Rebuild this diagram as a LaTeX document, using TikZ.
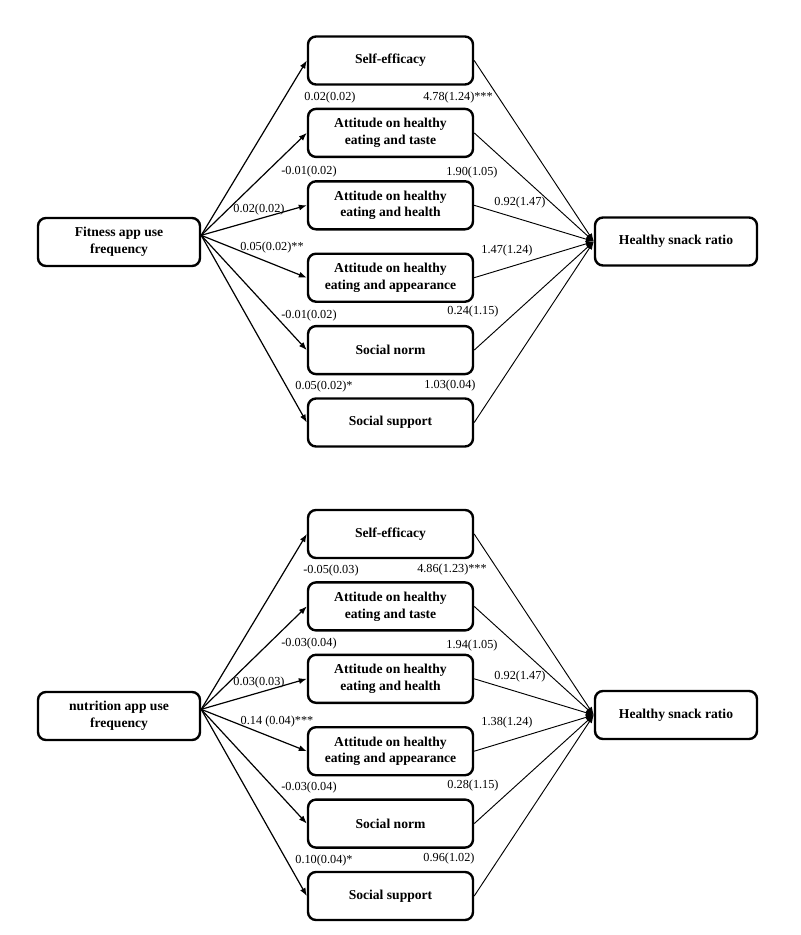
\documentclass[tikz,border=0pt]{standalone}
\usepackage{fontspec}
\setmainfont{Liberation Serif}
\usetikzlibrary{arrows.meta,positioning}

\begin{document}
\begin{tikzpicture}[
    x=0.75pt, y=-0.75pt,
    node distance=16.5pt,
    box/.style={draw, line width=1.8pt, rounded corners=6pt, align=center, minimum width=123.75pt, minimum height=36pt, inner sep=2pt, font=\fontsize{10.2}{12.6}\selectfont\bfseries},
    endbox/.style={box, minimum width=121.5pt},
    coef/.style={inner sep=0pt, font=\fontsize{9.2}{11}\selectfont},
    arrow/.style={-{Latex[length=6pt,width=4.5pt]}, line width=0.9pt},
    inarrow/.style={arrow, line width=0.7pt}
]
\useasboundingbox (0,0) rectangle (800,935);

% Top panel: fitness app
\node[endbox] (fit) at (119,242) {Fitness app use\\frequency};
\node[endbox] (snack1) at (676,241.5) {Healthy snack ratio};
\node[box] (se1) at (390.5,60.5) {Self-efficacy};
\node[box, below=of se1] (taste1) {Attitude on healthy\\eating and taste};
\node[box, below=of taste1] (health1) {Attitude on healthy\\eating and health};
\node[box, below=of health1] (look1) {Attitude on healthy\\eating and appearance};
\node[box, below=of look1] (norm1) {Social norm};
\node[box, below=of norm1] (supp1) {Social support};
\coordinate (fout) at ([yshift=5pt]fit.east);

% a paths
\draw[arrow] (fout) -- (se1.west);
\draw[arrow] (fout) -- (taste1.west);
\draw[arrow] (fout) -- (health1.west);
\draw[arrow] (fout) -- (look1.west);
\draw[arrow] (fout) -- (norm1.west);
\draw[arrow] (fout) -- (supp1.west);

% b paths
\draw[inarrow] (se1.east) -- (snack1.west);
\draw[inarrow] (taste1.east) -- (snack1.west);
\draw[inarrow] (health1.east) -- (snack1.west);
\draw[inarrow] (look1.east) -- (snack1.west);
\draw[inarrow] (norm1.east) -- (snack1.west);
\draw[inarrow] (supp1.east) -- (snack1.west);

% Coefficients
\node[coef] (ase1) at (330,98) {0.02(0.02)};
\node[coef] (ataste1) at (309,172) {-0.01(0.02)};
\node[coef] (ahealth1) at (259,210) {0.02(0.02)};
\node[coef] (alook1) at (272,248) {0.05(0.02)**};
\node[coef] (anorm1) at (309,316) {-0.01(0.02)};
\node[coef] (asupp1) at (324,387) {0.05(0.02)*};
\node[coef] (bse1) at (458,98) {4.78(1.24)***};
\node[coef] (btaste1) at (472,173) {1.90(1.05)};
\node[coef] (bhealth1) at (520,203) {0.92(1.47)};
\node[coef] (blook1) at (507,251) {1.47(1.24)};
\node[coef] (bnorm1) at (473,312) {0.24(1.15)};
\node[coef] (bsupp1) at (450,386) {1.03(0.04)};

% Bottom panel: nutrition app
\node[endbox] (nut) at (119,716) {nutrition app use\\frequency};
\node[endbox] (snack2) at (676,715) {Healthy snack ratio};
\node[box] (se2) at (390.5,534) {Self-efficacy};
\node[box, below=of se2] (taste2) {Attitude on healthy\\eating and taste};
\node[box, below=of taste2] (health2) {Attitude on healthy\\eating and health};
\node[box, below=of health2] (look2) {Attitude on healthy\\eating and appearance};
\node[box, below=of look2] (norm2) {Social norm};
\node[box, below=of norm2] (supp2) {Social support};
\coordinate (nout) at ([yshift=5pt]nut.east);

% a paths
\draw[arrow] (nout) -- (se2.west);
\draw[arrow] (nout) -- (taste2.west);
\draw[arrow] (nout) -- (health2.west);
\draw[arrow] (nout) -- (look2.west);
\draw[arrow] (nout) -- (norm2.west);
\draw[arrow] (nout) -- (supp2.west);

% b paths
\draw[inarrow] (se2.east) -- (snack2.west);
\draw[inarrow] (taste2.east) -- (snack2.west);
\draw[inarrow] (health2.east) -- (snack2.west);
\draw[inarrow] (look2.east) -- (snack2.west);
\draw[inarrow] (norm2.east) -- (snack2.west);
\draw[inarrow] (supp2.east) -- (snack2.west);

% Coefficients
\node[coef] (ase2) at (331,571) {-0.05(0.03)};
\node[coef] (ataste2) at (309,644) {-0.03(0.04)};
\node[coef] (ahealth2) at (259,683) {0.03(0.03)};
\node[coef] (alook2) at (277,722) {0.14 (0.04)***};
\node[coef] (anorm2) at (309,788) {-0.03(0.04)};
\node[coef] (asupp2) at (324,861) {0.10(0.04)*};
\node[coef] (bse2) at (452,570) {4.86(1.23)***};
\node[coef] (btaste2) at (472,646) {1.94(1.05)};
\node[coef] (bhealth2) at (520,677) {0.92(1.47)};
\node[coef] (blook2) at (507,723) {1.38(1.24)};
\node[coef] (bnorm2) at (473,786) {0.28(1.15)};
\node[coef] (bsupp2) at (449,859) {0.96(1.02)};
\end{tikzpicture}
\end{document}
